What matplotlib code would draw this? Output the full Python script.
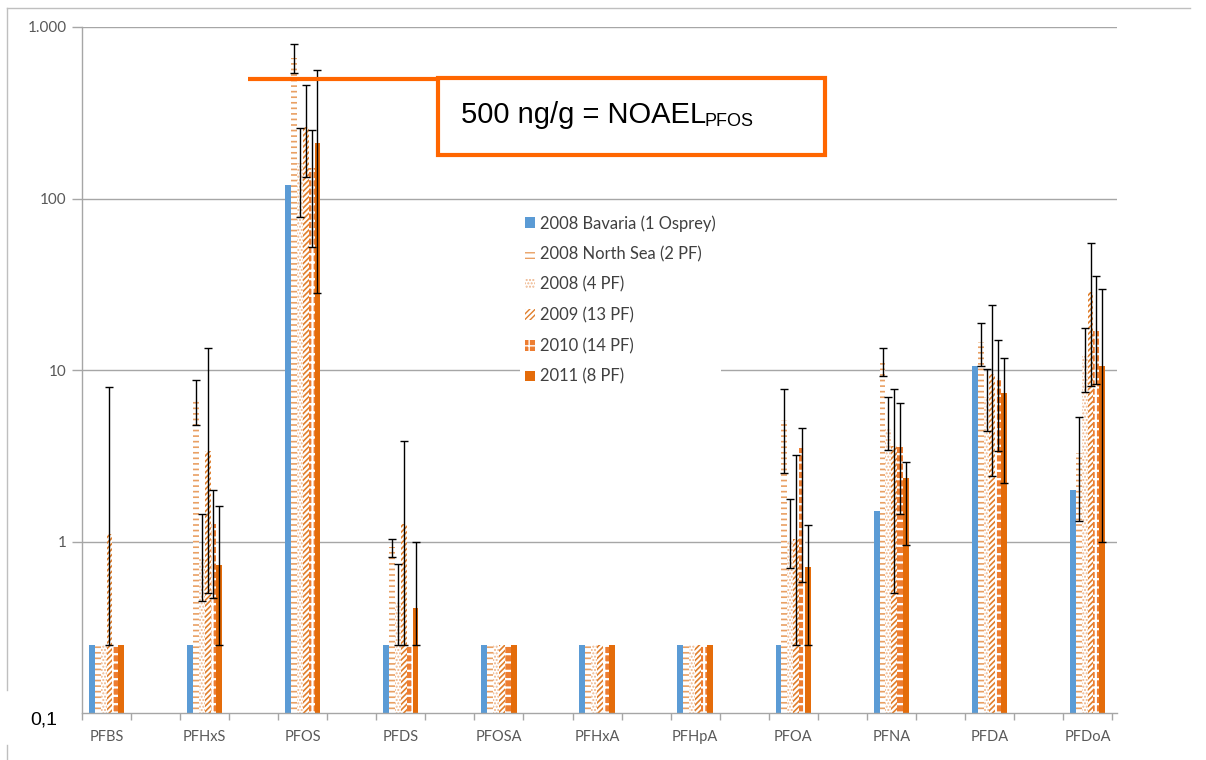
import numpy as np
import matplotlib
matplotlib.use("Agg")
import matplotlib.pyplot as plt
from matplotlib.patches import Rectangle
from matplotlib.lines import Line2D

categories = ['PFBS', 'PFHxS', 'PFOS', 'PFDS', 'PFOSA', 'PFHxA', 'PFHpA',
              'PFOA', 'PFNA', 'PFDA', 'PFDoA']
series_names = ['2008 Bavaria (1 Osprey)', '2008 North Sea (2 PF)', '2008 (4 PF)',
                '2009 (13 PF)', '2010 (14 PF)', '2011 (8 PF)']

bavaria   = [0.25, 0.25, 120, 0.25, 0.25, 0.25, 0.25, 0.25, 1.5, 10.5, 2.0]
north_sea = [0.25, 6.6, 660, 0.93, 0.25, 0.25, 0.25, 5.1, 11.0, 14.5, 3.3]
pf2008    = [0.25, 0.8, 160, 0.45, 0.25, 0.25, 0.25, 1.0, 4.5, 7.0, 12.0]
pf2009    = [1.1, 3.35, 260, 1.27, 0.25, 0.25, 0.25, 1.03, 3.6, 9.5, 28.5]
pf2010    = [0.25, 1.27, 150, 0.25, 0.25, 0.25, 0.25, 3.5, 3.55, 9.0, 16.8]
pf2011    = [0.25, 0.73, 210, 0.41, 0.25, 0.25, 0.25, 0.71, 2.36, 7.3, 10.5]

nan = np.nan
# error bar ends (low, high) per series; nan = no error bar
north_sea_lo = [nan, 4.8, 536, 0.81, nan, nan, nan, 2.5, 9.2, 10.5, 1.31]
north_sea_hi = [nan, 8.8, 800, 1.04, nan, nan, nan, 7.7, 13.5, 18.9, 5.3]
pf2008_lo    = [nan, 0.45, 78, 0.25, nan, nan, nan, 0.70, 3.4, 4.4, 7.4]
pf2008_hi    = [nan, 1.45, 257, 0.74, nan, nan, nan, 1.76, 7.0, 10.2, 17.5]
pf2009_lo    = [0.25, 0.50, 134, 0.25, nan, nan, nan, 0.25, 0.50, 2.4, 8.1]
pf2009_hi    = [8.0, 13.5, 457, 3.88, nan, nan, nan, 3.2, 7.8, 24.0, 55.0]
pf2010_lo    = [nan, 0.47, 52, nan, nan, nan, nan, 0.58, 1.44, 3.35, 8.3]
pf2010_hi    = [nan, 2.0, 252, nan, nan, nan, nan, 4.6, 6.4, 15.0, 35.5]
pf2011_lo    = [nan, 0.25, 28, 0.25, nan, nan, nan, 0.25, 0.95, 2.2, 1.0]
pf2011_hi    = [nan, 1.6, 565, 1.0, nan, nan, nan, 1.24, 2.9, 11.7, 29.5]

yticks = [1, 10, 100, 1000]
ytick_labels = ['1', '10', '100', '1.000']
noael = 500

values = [bavaria, north_sea, pf2008, pf2009, pf2010, pf2011]
lows = [None, north_sea_lo, pf2008_lo, pf2009_lo, pf2010_lo, pf2011_lo]
highs = [None, north_sea_hi, pf2008_hi, pf2009_hi, pf2010_hi, pf2011_hi]

styles = [
    dict(fc='#5B9BD5', ec='#5B9BD5', hatch=None, hlw=1.0),
    dict(fc='white', ec='#E9A064', hatch='---', hlw=1.2),
    dict(fc='white', ec='#EDB48A', hatch='.....', hlw=1.0),
    dict(fc='white', ec='#E07F2C', hatch='//////', hlw=1.2),
    dict(fc='#ED7D31', ec='white', hatch='++', hlw=1.6),
    dict(fc='#E46C0A', ec='#E46C0A', hatch=None, hlw=1.0),
]

W, H = 1206, 760
fig = plt.figure(figsize=(W / 100, H / 100), dpi=100)
x0, x1, y0, y1 = 82, 1117, 27, 713
ax = fig.add_axes([x0 / W, 1 - y1 / H, (x1 - x0) / W, (y1 - y0) / H])

ax.set_yscale('log')
ax.set_ylim(0.1, 1000)
ax.set_xlim(-0.5, 20.6)

grid_c = '#A6A6A6'
text_c = '#595959'
for yt in yticks:
    ax.axhline(yt, color=grid_c, lw=1.0, zorder=0)

centers = np.arange(len(categories)) * 2.0
bw = 0.12
handles = []
for i, (vals, st) in enumerate(zip(values, styles)):
    xs = centers + (i - 2.5) * bw
    with plt.rc_context({'hatch.linewidth': st['hlw']}):
        bars = ax.bar(xs, vals, width=bw, color=st['fc'], edgecolor=st['ec'],
                      hatch=st['hatch'], linewidth=0, zorder=2)
    handles.append(bars)
    if lows[i] is not None:
        lo = np.array(lows[i], dtype=float)
        hi = np.array(highs[i], dtype=float)
        v = np.array(vals, dtype=float)
        m = ~np.isnan(lo)
        ax.errorbar(xs[m], v[m], yerr=[v[m] - lo[m], hi[m] - v[m]], fmt='none',
                    ecolor='black', elinewidth=1.0, capsize=3, capthick=1.0,
                    zorder=4)

ax.set_yticks(yticks)
ax.set_yticklabels(ytick_labels, family='Lato', fontsize=11, color=text_c)
ax.yaxis.set_minor_locator(matplotlib.ticker.NullLocator())
ax.tick_params(axis='y', which='major', length=7, color=grid_c, width=1.0, pad=4)

ax.set_xticks(centers)
ax.set_xticklabels(categories, family='Lato', fontsize=10.5, color=text_c)
ax.set_xticks(np.arange(-0.5, 21, 1.0), minor=True)
ax.tick_params(axis='x', which='major', length=0, pad=12)
ax.tick_params(axis='x', which='minor', length=5, color=grid_c, width=1.0)

for s in ['top', 'right']:
    ax.spines[s].set_visible(False)
for s in ['left', 'bottom']:
    ax.spines[s].set_color(grid_c)
    ax.spines[s].set_linewidth(1.0)

leg = ax.legend(handles, series_names, loc='upper left',
                bbox_to_anchor=(520 / W, 1 - 210 / H), bbox_transform=fig.transFigure,
                frameon=True, facecolor='white', edgecolor='none', framealpha=1,
                prop={'family': 'Lato', 'size': 11.9}, labelcolor='#404040',
                handlelength=0.6, handleheight=0.6, handletextpad=0.3,
                labelspacing=0.88, borderpad=0.3, borderaxespad=0)
leg.set_zorder(5)

# NOAEL line and box
orange = '#FF6600'
ax.axhline(noael, xmin=(248 - x0) / (x1 - x0), xmax=(825 - x0) / (x1 - x0),
           color=orange, lw=3, zorder=6, solid_capstyle='butt')
fig.patches.append(Rectangle((438 / W, 1 - 155 / H), 387 / W, 77 / H,
                             transform=fig.transFigure, facecolor='white',
                             edgecolor=orange, lw=3, zorder=6))
fig.text(461 / W, 1 - 123 / H, '500 ng/g = NOAEL', family='Liberation Sans',
         fontsize=21, color='black', va='baseline', ha='left', zorder=7)
fig.text(704 / W, 1 - 126 / H, 'PFOS', family='Liberation Sans',
         fontsize=13, color='black', va='baseline', ha='left', zorder=7)

# "0,1" overlay label
fig.text(30 / W, 1 - 720 / H, '0,1', family='Liberation Sans', fontsize=14,
         color='black', va='center', ha='left')

# outer frame fragments
frame_c = '#BFBFBF'
fig.add_artist(Line2D([7 / W, 7 / W], [1 - 8 / H, 1 - 690 / H],
                      transform=fig.transFigure, color=frame_c, lw=1))
fig.add_artist(Line2D([7 / W, 7 / W], [1 - 745 / H, 0],
                      transform=fig.transFigure, color=frame_c, lw=1))
fig.add_artist(Line2D([7 / W, 1190 / W], [1 - 8 / H, 1 - 8 / H],
                      transform=fig.transFigure, color=frame_c, lw=1))

fig.savefig('out.png', dpi=100, facecolor='white')
